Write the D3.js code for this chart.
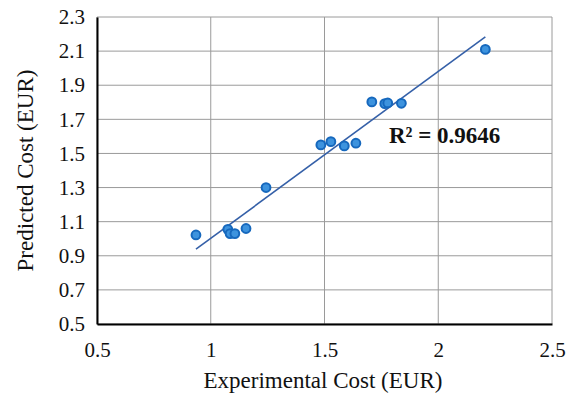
<!DOCTYPE html>
<html>
<head>
<meta charset="utf-8">
<script src="https://cdn.jsdelivr.net/npm/d3@7"></script>
<style>
  body { margin: 0; background: #fff; }
  svg text { font-family: "Liberation Serif", "Times New Roman", serif; fill: #111; }
</style>
</head>
<body>
<svg id="chart" width="574" height="394"></svg>
<script>
// values
var experimental = [0.935, 1.075, 1.085, 1.106, 1.155, 1.243, 1.484, 1.528, 1.587, 1.638, 1.708, 1.765, 1.778, 1.838, 2.207];
var predicted    = [1.022, 1.055, 1.030, 1.030, 1.060, 1.300, 1.550, 1.569, 1.544, 1.560, 1.802, 1.792, 1.796, 1.794, 2.110];
var xTicks = [0.5, 1, 1.5, 2, 2.5];
var yTicks = [0.5, 0.7, 0.9, 1.1, 1.3, 1.5, 1.7, 1.9, 2.1, 2.3];
var r2Label = "R² = 0.9646";

var WIDTH = 574, HEIGHT = 394;
var MARGINS = { left: 97, right: 22, top: 17, bottom: 70 };

var svg = d3.select("#chart");

var xRange = d3.scaleLinear().domain([0.5, 2.5]).range([MARGINS.left, WIDTH - MARGINS.right]);
var yRange = d3.scaleLinear().domain([0.5, 2.3]).range([HEIGHT - MARGINS.bottom, MARGINS.top]);

/**
 * gridlines
 */
svg.append("g").selectAll("line").data(yTicks).enter().append("line")
    .attr("x1", MARGINS.left).attr("x2", WIDTH - MARGINS.right)
    .attr("y1", function (d) { return yRange(d); })
    .attr("y2", function (d) { return yRange(d); })
    .attr("stroke", "#9a9a9a").attr("stroke-width", 1);

svg.append("g").selectAll("line").data(xTicks).enter().append("line")
    .attr("y1", MARGINS.top).attr("y2", HEIGHT - MARGINS.bottom)
    .attr("x1", function (d) { return xRange(d); })
    .attr("x2", function (d) { return xRange(d); })
    .attr("stroke", "#9a9a9a").attr("stroke-width", 1);

/**
 * axes (no tick marks, just labels)
 */
var xAxis = d3.axisBottom(xRange).tickValues(xTicks).tickSize(0).tickPadding(18)
    .tickFormat(function (d) { return String(d); });
var yAxis = d3.axisLeft(yRange).tickValues(yTicks).tickSize(0).tickPadding(12)
    .tickFormat(d3.format(".1f"));

var x2 = svg.append("g").attr("transform", "translate(0," + (HEIGHT - MARGINS.bottom) + ")").call(xAxis);
var y2 = svg.append("g").attr("transform", "translate(" + MARGINS.left + ",0)").call(yAxis);

[x2, y2].forEach(function (g) {
    g.select(".domain").attr("stroke", "#000").attr("stroke-width", 2);
    g.selectAll("text").style("font-size", "21px").attr("fill", "#111");
});

/**
 * trendline from least squares over the points
 */
var n = experimental.length;
var mx = d3.mean(experimental), my = d3.mean(predicted);
var sxy = 0, sxx = 0;
for (var i = 0; i < n; i++) {
    sxy += (experimental[i] - mx) * (predicted[i] - my);
    sxx += (experimental[i] - mx) * (experimental[i] - mx);
}
var slope = sxy / sxx, icpt = my - slope * mx;
var xMin = d3.min(experimental), xMax = d3.max(experimental);

svg.append("line")
    .attr("x1", xRange(xMin)).attr("y1", yRange(icpt + slope * xMin))
    .attr("x2", xRange(xMax)).attr("y2", yRange(icpt + slope * xMax))
    .attr("stroke", "#3560a8").attr("stroke-width", 1.6);

/**
 * points
 */
var pts = experimental.map(function (d, i) { return [d, predicted[i]]; });
svg.append("g").selectAll("circle").data(pts).enter().append("circle")
    .attr("cx", function (d) { return xRange(d[0]); })
    .attr("cy", function (d) { return yRange(d[1]); })
    .attr("r", 4.4)
    .attr("fill", "#3d93de")
    .attr("stroke", "#1668bd")
    .attr("stroke-width", 2);

/**
 * labels
 */
svg.append("text")
    .attr("x", 389).attr("y", yRange(1.6) + 7)
    .style("font-size", "23px").style("font-weight", "bold")
    .text(r2Label);

svg.append("text")
    .attr("text-anchor", "middle")
    .attr("x", 323)
    .attr("y", HEIGHT - 6)
    .style("font-size", "23px")
    .text("Experimental Cost (EUR)");

svg.append("text")
    .attr("text-anchor", "middle")
    .attr("transform", "translate(33," + ((MARGINS.top + HEIGHT - MARGINS.bottom) / 2) + ") rotate(-90)")
    .style("font-size", "23px")
    .text("Predicted Cost (EUR)");
</script>
</body>
</html>
